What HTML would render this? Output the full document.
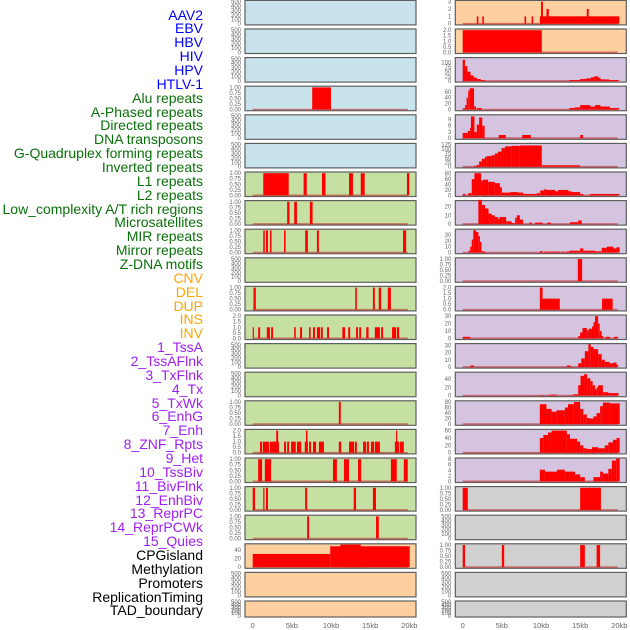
<!DOCTYPE html>
<html><head><meta charset="utf-8">
<style>
html,body{margin:0;padding:0;background:#fff;}
#wrap{position:relative;width:630px;height:630px;overflow:hidden;}
.lbl{position:absolute;right:427px;font-family:"Liberation Sans",sans-serif;font-size:14px;line-height:14px;white-space:nowrap;}
svg{position:absolute;left:0;top:0;}
</style></head><body>
<div id="wrap">
<svg id="chart" width="630" height="630"></svg>
</div>
<script>
const labels = ["AAV2","EBV","HBV","HIV","HPV","HTLV-1","Alu repeats","A-Phased repeats","Directed repeats","DNA transposons","G-Quadruplex forming repeats","Inverted repeats","L1 repeats","L2 repeats","Low_complexity A/T rich regions","Microsatellites","MIR repeats","Mirror repeats","Z-DNA motifs","CNV","DEL","DUP","INS","INV","1_TssA","2_TssAFlnk","3_TxFlnk","4_Tx","5_TxWk","6_EnhG","7_Enh","8_ZNF_Rpts","9_Het","10_TssBiv","11_BivFlnk","12_EnhBiv","13_ReprPC","14_ReprPCWk","15_Quies","CPGisland","Methylation","Promoters","ReplicationTiming","TAD_boundary"];
const labelGroups = [6,13,5,15,5];
const groupColors = ["#0000ff","#0a700a","#ffa500","#a020f0","#000000"];

const xTicks = [0,5,10,15,20];
const xTickLabels = ["0","5kb","10kb","15kb","20kb"];

const E = [0,100,200,300,400,500];
const U = [0,0.25,0.5,0.75,1.0];
const leftBg = ["b","b","b","b","b","b","g","g","g","g","g","g","g","g","g","g","g","g","g","p","p","p"];
const rightBg = ["p","p","l","l","l","l","l","l","l","l","l","l","l","l","l","l","l","y","y","y","y","y"];
const leftTicks = [E,E,E,U,E,E,U,U,U,E,U,[0,0.5,1,1.5,2],E,E,U,[0,0.5,1,1.5,2],U,U,U,[0,20,40],E,E];
const leftMax = [500,500,500,1,500,500,1,1,1,500,1,2,500,500,1,2,1,1,1,52,500,500];
const rightTicks = [[0,1,2,3],[0,0.5,1,1.5,2],[0,25,50,75,100],[0,20,40,60],[0,3,6,9],[0,25,50,75,100,125],[0,20,40,60,80],[0,10,20],[0,10,20,30],U,[0,0.5,1,1.5,2],[0,10,20,30],[0,10,20,30],[0,20,40],[0,20,40,60,80],[0,20,40,60],[0,2,4,6,8],U,E,U,E,E];
const rightMax = [3,2,120,75,10.7,125,82,25.7,37.7,1,2,30,31,54,80,60,8,1,500,1,500,500];

const leftSegs = [
 [],[],[],
 [[7.6,10.0,1]],
 [],[],
 [[1.35,4.6,1],[6.5,6.9,1],[8.85,9.3,1],[12.3,12.8,1],[13.8,14.3,1],[19.7,20,1]],
 [[4.4,4.7,1],[5.3,5.65,1],[7.3,7.65,1]],
 [[1.35,1.55,1],[1.7,1.95,1],[2.2,2.4,1],[4.0,4.2,1],[6.7,7.05,1],[8.2,8.45,1],[19.2,19.6,1]],
 [],
 [[0.1,0.4,1],[13.1,13.3,1],[15.35,15.6,1],[16.1,16.4,1],[17.25,17.65,1]],
 [[0,0.15,1],[0.7,0.95,1],[1.8,2.2,1],[2.35,2.6,1],[5.3,5.5,1],[6.05,6.3,1],[7.2,7.4,1],[7.7,7.95,1],[8.2,8.6,1],[8.7,8.95,1],[9.5,9.75,1],[11.45,11.8,1],[12.2,12.45,1],[13.2,13.45,1],[13.6,13.85,1],[14.5,14.8,1],[15.6,16.25,1],[16.4,16.65,1],[17.8,18.3,1],[18.4,18.7,1]],
 [],[],
 [[11.0,11.25,1]],
 [[0.93,1.2,1],[1.3,2.1,1],[2.2,3.35,1],[4.0,4.25,1],[4.4,4.65,1],[4.9,5.5,1],[5.65,6.2,1],[6.65,7.05,1],[7.2,7.45,1],[7.7,8.1,1],[8.45,9.1,1],[11.0,11.3,1],[12.3,12.95,1],[13.05,13.3,1],[14.1,14.5,1],[14.6,14.85,1],[15.1,15.5,1],[15.6,16.25,1],[18.15,18.7,1],[18.8,19.3,1],[3.0,3.25,2],[6.8,7.0,2],[18.3,18.45,2]],
 [[0.7,1.2,1],[1.55,2.35,1],[10.25,10.75,1],[11.65,12.3,1],[13.45,13.85,1],[17.65,18.4,1],[19.3,19.8,1]],
 [[0,0.3,1],[1.35,1.5,1],[1.7,1.95,1],[6.7,6.95,1],[12.9,13.2,1],[15.35,15.75,1]],
 [[6.95,7.2,1],[15.75,16.1,1]],
 [[0,9.9,31],[9.9,20.05,49],[11.2,13.8,53]],
 [],[]
];

const rightSegs = [
 [[1.8,2.0,1],[2.5,2.7,1],[7.9,8.1,1],[8.8,9.0,1],[9.85,20,1],[10.0,10.25,3],[10.7,11.0,2],[15.85,16.1,2]],
 [[0,10.1,2]],
 [[0,0.3,115],[0.3,0.6,80],[0.6,1.0,50],[1.0,1.4,30],[1.4,1.8,18],[1.8,2.3,10],[2.3,2.8,5],[13.6,15.0,5],[15.0,15.8,10],[15.8,16.4,14],[16.4,16.8,20],[16.8,17.3,25],[17.3,17.6,18],[17.6,18.7,8],[18.7,20,5]],
 [[0,0.3,4],[0.3,0.5,15],[0.5,0.7,40],[0.7,0.9,65],[0.9,1.45,72],[1.45,1.7,10],[1.8,2.4,5],[13.6,14.3,5],[14.3,15.0,7],[15.0,16.3,15],[16.3,16.9,10],[16.9,17.6,15],[17.6,18.8,10],[18.8,20,5]],
 [[0,0.65,2.5],[0.65,0.95,3.5],[0.95,1.05,5],[1.05,1.5,10.5],[1.5,1.8,3],[1.8,2.1,6.5],[2.1,2.5,10],[2.5,2.8,6],[4.6,5.5,1.5],[7.6,8.7,1.5],[15.0,15.35,1.5]],
 [[1.45,1.8,5],[1.8,2.1,10],[2.1,2.45,30],[2.45,2.85,45],[2.85,3.05,55],[3.05,3.7,60],[3.7,4.1,65],[4.1,4.5,75],[4.5,4.95,85],[4.95,5.4,105],[5.4,6.25,115],[6.25,7.3,118],[7.3,10.1,120],[10.1,15.0,8]],
 [[0,0.3,5],[0.7,1.15,8],[1.15,1.5,60],[1.5,2.35,82],[2.35,2.6,55],[2.6,3.25,58],[3.25,4.1,50],[4.1,4.75,45],[4.75,5.0,30],[5.0,6.05,10],[6.05,7.05,12],[7.05,7.75,10],[7.75,9.45,5],[9.45,9.9,8],[9.9,10.4,18],[10.4,10.7,22],[10.7,11.8,20],[11.8,12.2,15],[12.2,13.5,20],[13.5,13.9,15],[13.9,15.0,12],[15.0,15.4,5],[16.25,17.55,5],[17.55,20.05,5]],
 [[2.0,2.45,28],[2.45,2.85,22],[2.85,3.3,18],[3.3,3.7,12],[3.7,4.1,10],[4.1,4.5,8],[4.5,4.7,6],[4.7,5.1,8],[5.1,5.55,8],[5.55,6.25,3],[6.25,6.7,1],[6.7,6.9,7],[6.9,7.3,10],[7.3,7.7,5],[8.5,8.8,1.5],[9.25,10.2,1.5],[10.8,11.25,1.5],[13.7,14.75,2],[14.75,15.2,4]],
 [[0.75,0.95,3],[0.95,1.15,10],[1.15,1.35,22],[1.35,1.7,38],[1.7,2.0,35],[2.0,2.2,28],[2.2,2.4,18],[2.4,2.85,2],[9.9,10.2,2.5],[10.4,12.45,1.5],[12.6,13.0,1.5],[13.1,13.6,1.5],[13.6,15.0,3],[15.0,15.4,7],[15.4,16.9,3],[16.9,17.75,2],[17.75,18.4,8],[18.4,19.25,10],[19.25,19.65,7],[19.65,20.05,9]],
 [[14.7,15.25,1]],
 [[9.85,10.2,2],[10.2,12.4,1],[17.8,19.15,1]],
 [[0,0.95,2],[14.75,15.0,3],[15.0,15.3,8],[15.3,15.85,14],[15.85,16.1,11],[16.1,16.5,13],[16.5,16.7,16],[16.7,16.9,22],[16.9,17.3,30],[17.3,17.5,20],[17.5,17.75,10],[17.75,17.95,3],[18.25,18.8,2],[19.3,19.85,2]],
 [[1.0,1.45,2],[13.3,13.8,2],[14.75,15.15,5],[15.15,15.6,12],[15.6,16.05,22],[16.05,16.35,32],[16.35,16.7,28],[16.7,17.3,25],[17.3,17.75,18],[17.75,18.15,10],[18.15,18.8,7],[18.8,19.2,5],[19.2,19.65,6],[19.65,19.85,3]],
 [[9.85,10.4,1],[11.0,12.0,2],[13.6,14.1,1],[14.1,14.75,3],[14.75,15.05,25],[15.05,15.5,48],[15.5,15.9,52],[15.9,16.3,42],[16.3,16.6,35],[16.6,16.9,25],[16.9,17.1,15],[17.1,17.3,20],[17.3,17.9,25],[17.9,18.6,8],[18.6,19.2,6],[19.2,19.9,6]],
 [[9.85,10.7,72],[10.7,11.35,55],[11.35,12.0,45],[12.0,13.05,50],[13.05,13.45,60],[13.45,14.2,72],[14.2,15.0,80],[15.0,15.4,55],[15.4,15.85,35],[15.85,16.25,22],[16.25,16.7,20],[16.7,17.1,28],[17.1,17.55,40],[17.55,17.9,65],[17.9,18.8,78],[18.8,20.05,75]],
 [[9.85,10.3,40],[10.3,10.9,48],[10.9,11.35,55],[11.35,13.3,60],[13.3,13.7,50],[13.7,14.6,38],[14.6,15.0,30],[15.0,15.4,20],[15.4,15.85,12],[15.85,16.5,10],[16.5,17.3,15],[17.3,18.15,12],[18.15,18.6,20],[18.6,19.2,28],[19.2,19.65,35],[19.65,20.05,40]],
 [[9.85,10.5,4.2],[10.5,12.05,3.5],[12.05,13.05,4.2],[13.05,14.35,3.5],[14.35,15.0,2.5],[15.0,15.6,1.5],[16.7,17.55,1.5],[17.55,17.9,3.5],[17.9,18.6,2.8],[18.6,19.05,4.5],[19.05,19.6,7.5],[19.6,20.05,8.2]],
 [[0,0.65,1],[15.0,17.65,1]],
 [],
 [[0,0.3,1],[5.0,5.3,1],[15.0,15.6,1],[17.1,17.55,1]],
 [],[]
];

const NS = "http://www.w3.org/2000/svg";
const svg = document.getElementById("chart");
const wrap = document.getElementById("wrap");
const bgColors = {b:"#c8e3eb",g:"#c6e0a4",p:"#fecf9f",l:"#d5c4e0",y:"#d0d0d0"};
const cols = [{left:245,right:416,x0:252.7,x20:409.3},{left:455.3,right:626.3,x0:462.7,x20:619.3}];
function xScale(c,kb){return cols[c].x0 + kb*(cols[c].x20-cols[c].x0)/20;}
function rowTop(i){return 0.4 + 28.6*i;}
function rowH(i){return i===21?16:24.5;}
function yScale(i,vmax,v){const t=rowTop(i)+1.2,b=rowTop(i)+rowH(i)-1.2;return b-(v/vmax)*(b-t);}
function mk(tag,attrs){const e=document.createElementNS(NS,tag);for(const k in attrs)e.setAttribute(k,attrs[k]);svg.appendChild(e);return e;}
function fmt(t,ticks){const mx=ticks[ticks.length-1];if(mx===1)return t.toFixed(2);if(mx===2)return t.toFixed(1);return String(t);}

function drawPanel(c,i,bg,ticks,vmax,segs){
  const L=cols[c].left,R=cols[c].right,T=rowTop(i),H=rowH(i);
  const r=mk("rect",{x:L,y:T,width:R-L,height:H,fill:bgColors[bg],stroke:"#5f5f5f","stroke-width":1.2});
  
  
  ticks.forEach(t=>{
    const tx=mk("text",{x:L-4,y:yScale(i,vmax,t)+2,"text-anchor":"end","font-family":"Liberation Sans, sans-serif","font-size":6,fill:"#666"});
    tx.textContent=fmt(t,ticks);
    
    
  });
  if(segs.length){
    const base=yScale(i,vmax,0);
    const ln=mk("line",{x1:xScale(c,0),x2:xScale(c,19.8),y1:base,y2:base,stroke:"rgba(190,30,30,0.55)","stroke-width":1.6});
    
    
  }
  segs.forEach(s=>{
    const x1=xScale(c,s[0]),x2=xScale(c,s[1]),y=yScale(i,vmax,s[2]),b=yScale(i,vmax,0);
    const br=mk("rect",{x:x1,y:y,width:Math.max(1.2,x2-x1),height:b-y,fill:"#ff0000"});
    
    
  });
}
for(let i=0;i<22;i++){
  drawPanel(0,i,leftBg[i],leftTicks[i],leftMax[i],leftSegs[i]);
  drawPanel(1,i,rightBg[i],rightTicks[i],rightMax[i],rightSegs[i]);
}
for(let c=0;c<2;c++){
  xTicks.forEach((t,k)=>{
    const tx=mk("text",{x:xScale(c,t),y:628,"text-anchor":"middle","font-family":"Liberation Sans, sans-serif","font-size":7.5,fill:"#666"});
    tx.textContent=xTickLabels[k];
    
    
  });
}
let idx=0;
labelGroups.forEach((n,g)=>{
  for(let k=0;k<n;k++){
    const d=document.createElement("div");
    d.className="lbl";
    d.style.top=(15+13.86*idx-7.5)+"px";
    d.style.color=groupColors[g];
    d.textContent=labels[idx];
    
    
    wrap.appendChild(d);
    idx++;
  }
});
</script>
</body></html>
